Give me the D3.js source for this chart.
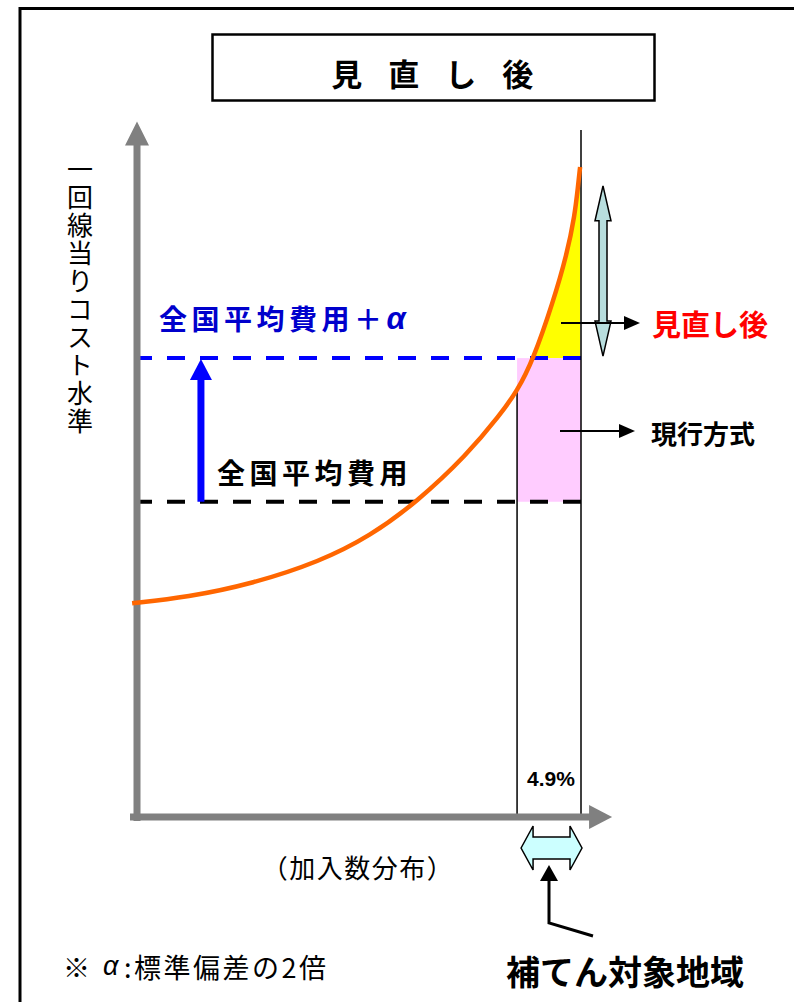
<!DOCTYPE html>
<html><head><meta charset="utf-8">
<script src="https://cdn.jsdelivr.net/npm/d3@7"></script>
<style>
html,body{margin:0;padding:0;background:#fff;}
svg{display:block;}
</style></head>
<body>
<svg id="chart" width="794" height="1002" font-family="'Noto Sans CJK JP','Noto Sans',sans-serif"></svg>
<script>
// ---- data ----
const title = "見 直 し 後";
const yAxisLabel = "一回線当りコスト水準";
const xAxisLabel = "（加入数分布）";
const footnoteParts = ["※ ", "α", ":標準偏差の2倍"];
const targetLabel = "補てん対象地域";
// cost curve (x: cumulative distribution, y: cost level)
const curveX = [-1.1, 11.3, 26.1, 41.2, 52.5, 63.1, 74.3, 81.8, 85.6, 89.2, 93.7, 96.8, 98.6, 99.3, 99.8];
const curveY = [32.9, 33.8, 35.9, 39.3, 43.2, 48.5, 55.7, 61.9, 65.5, 70.3, 79.2, 86.5, 92.6, 96.9, 100];
const levelNames = ["全国平均費用", "全国平均費用＋"];
const alphaSymbol = "α";
const levelValues = [48.5, 70.6];
const subsidyRange = [85.6, 100];
const subsidyShare = "4.9%";
const methodNames = ["見直し後", "現行方式"];
const axisMax = 107;

// ---- scales ----
const svg = d3.select("#chart");
const x = d3.scaleLinear().domain([0, 100]).range([137, 581]);
const y = d3.scaleLinear().domain([0, 100]).range([817, 167]);
const curveData = curveX.map((v, i) => ({x: v, y: curveY[i]}));
const avg = levelValues[0], avgA = levelValues[1];
const latin = "'Liberation Sans',Arial,sans-serif";
const smooth = d3.curveBasis;

// frame
svg.append("rect").attr("x", 20).attr("y", 8.5).attr("width", 800).attr("height", 1010)
  .attr("fill", "none").attr("stroke", "#000").attr("stroke-width", 3);
// title box
svg.append("rect").attr("x", 212.5).attr("y", 34.5).attr("width", 442).attr("height", 66)
  .attr("fill", "#fff").attr("stroke", "#000").attr("stroke-width", 2.5);
svg.append("text").attr("x", 433 + 4).attr("y", 72).attr("text-anchor", "middle")
  .attr("dominant-baseline", "central").attr("font-size", 31).attr("font-weight", "bold")
  .attr("letter-spacing", 9.5).text(title);

// pink (current method) region
svg.append("rect").attr("x", x(subsidyRange[0])).attr("y", y(avgA))
  .attr("width", x(subsidyRange[1]) - x(subsidyRange[0])).attr("height", y(avg) - y(avgA))
  .attr("fill", "#ffccff");

// yellow (revised) region: below curve, above avg+alpha, left of right boundary
svg.append("clipPath").attr("id", "yclip").append("rect")
  .attr("x", x(0)).attr("y", 0).attr("width", x(subsidyRange[1]) - x(0)).attr("height", y(avgA));
const area = d3.area().curve(smooth)
  .x(d => x(d.x)).y0(y(avgA)).y1(d => y(d.y));
svg.append("path").datum(curveData).attr("d", area).attr("fill", "#ffff00")
  .attr("clip-path", "url(#yclip)");

// dashed level lines
svg.append("line").attr("x1", 134).attr("x2", x(100)).attr("y1", y(avg)).attr("y2", y(avg))
  .attr("stroke", "#000").attr("stroke-width", 4).attr("stroke-dasharray", "18,15");
svg.append("line").attr("x1", 134).attr("x2", x(100)).attr("y1", y(avgA)).attr("y2", y(avgA))
  .attr("stroke", "#0000ff").attr("stroke-width", 4).attr("stroke-dasharray", "18,15");

// subsidy boundary lines
const leftTop = curveY[curveX.indexOf(subsidyRange[0])];
svg.append("line").attr("x1", x(subsidyRange[0])).attr("x2", x(subsidyRange[0]))
  .attr("y1", y(leftTop)).attr("y2", y(0)).attr("stroke", "#000").attr("stroke-width", 1.5);
svg.append("line").attr("x1", x(subsidyRange[1])).attr("x2", x(subsidyRange[1]))
  .attr("y1", y(105.7)).attr("y2", y(0)).attr("stroke", "#000").attr("stroke-width", 1.5);

// axes (gray arrows)
const gray = "#808080";
svg.append("line").attr("x1", x(0)).attr("x2", x(0)).attr("y1", y(0) + 4).attr("y2", y(axisMax) + 22)
  .attr("stroke", gray).attr("stroke-width", 7);
svg.append("path").attr("fill", gray)
  .attr("d", `M${x(0)},${y(axisMax)} L${x(0) + 12},${y(axisMax) + 24} L${x(0) - 12},${y(axisMax) + 24} Z`);
svg.append("line").attr("x1", 130).attr("x2", x(axisMax) - 22).attr("y1", y(0)).attr("y2", y(0))
  .attr("stroke", gray).attr("stroke-width", 7);
svg.append("path").attr("fill", gray)
  .attr("d", `M${x(axisMax)},${y(0)} L${x(axisMax) - 23},${y(0) - 12} L${x(axisMax) - 23},${y(0) + 12} Z`);

// cost curve
svg.append("path").datum(curveData)
  .attr("d", d3.line().curve(smooth).x(d => x(d.x)).y(d => y(d.y)))
  .attr("fill", "none").attr("stroke", "#ff6600").attr("stroke-width", 4.5);

// blue up arrow (avg -> avg+alpha)
const bx = x(14.4);
svg.append("line").attr("x1", bx).attr("x2", bx).attr("y1", y(avg)).attr("y2", y(avgA) + 20)
  .attr("stroke", "#0000ff").attr("stroke-width", 7);
svg.append("path").attr("fill", "#0000ff")
  .attr("d", `M${bx},${y(avgA) + 1} L${bx + 11},${y(avgA) + 22} L${bx - 11},${y(avgA) + 22} Z`);

// level labels
const tA = svg.append("text").attr("x", 159).attr("y", 318).attr("dominant-baseline", "central")
  .attr("font-size", 28).attr("font-weight", "bold").attr("fill", "#0000cc");
tA.append("tspan").attr("letter-spacing", 4.5).text(levelNames[1]);
tA.append("tspan").attr("font-family", latin).attr("font-style", "italic")
  .attr("font-size", 31).text(alphaSymbol);
svg.append("text").attr("x", 217).attr("y", 472).attr("dominant-baseline", "central")
  .attr("font-size", 28).attr("font-weight", "bold").attr("fill", "#000")
  .attr("letter-spacing", 4.5).text(levelNames[0]);

// double arrows
function vDouble(cx, ty, by, hl, hh, sh) {
  return `M${cx},${ty} L${cx + hh},${ty + hl} L${cx + sh},${ty + hl} L${cx + sh},${by - hl} L${cx + hh},${by - hl} ` +
         `L${cx},${by} L${cx - hh},${by - hl} L${cx - sh},${by - hl} L${cx - sh},${ty + hl} L${cx - hh},${ty + hl} Z`;
}
function hDouble(lx, rx, cy, hl, hh, sh) {
  return `M${lx},${cy} L${lx + hl},${cy - hh} L${lx + hl},${cy - sh} L${rx - hl},${cy - sh} L${rx - hl},${cy - hh} ` +
         `L${rx},${cy} L${rx - hl},${cy + hh} L${rx - hl},${cy + sh} L${lx + hl},${cy + sh} L${lx + hl},${cy + hh} Z`;
}
svg.append("path").attr("d", vDouble(x(100) + 22, y(97.1), y(avgA) - 2, 35, 8, 4))
  .attr("fill", "#b8dede").attr("stroke", "#000").attr("stroke-width", 1.5);

// pointer arrows to method labels
function pointer(x1, x2, yy) {
  svg.append("line").attr("x1", x1).attr("x2", x2 - 14).attr("y1", yy).attr("y2", yy)
    .attr("stroke", "#000").attr("stroke-width", 2);
  svg.append("path").attr("fill", "#000")
    .attr("d", `M${x2},${yy} L${x2 - 16},${yy - 7} L${x2 - 16},${yy + 7} Z`);
}
pointer(561, 640, 323);
pointer(560, 635, 431);
svg.append("text").attr("x", 652).attr("y", 323).attr("dominant-baseline", "central")
  .attr("font-size", 29).attr("font-weight", "bold").attr("fill", "#ff0000").text(methodNames[0]);
svg.append("text").attr("x", 651).attr("y", 432).attr("dominant-baseline", "central")
  .attr("font-size", 26).attr("font-weight", "bold").attr("fill", "#000").text(methodNames[1]);

// share label
svg.append("text").attr("x", (x(subsidyRange[0]) + x(subsidyRange[1])) / 2 + 2).attr("y", 778)
  .attr("text-anchor", "middle").attr("dominant-baseline", "central")
  .attr("font-family", latin).attr("font-size", 21)
  .attr("font-weight", "bold").text(subsidyShare);

// horizontal double arrow (subsidy area)
svg.append("path").attr("d", hDouble(x(subsidyRange[0]) + 4, x(subsidyRange[1]) + 1, 848, 12, 22, 11))
  .attr("fill", "#ccffff").attr("stroke", "#000").attr("stroke-width", 1.5);

// pointer from target label
svg.append("polyline").attr("points", `593,936 549,923 549,878`)
  .attr("fill", "none").attr("stroke", "#000").attr("stroke-width", 3);
svg.append("path").attr("fill", "#000").attr("d", "M549,865 L558,881 L540,881 Z");

// axis labels
svg.append("text").attr("x", 80).attr("y", 156)
  .attr("style", "writing-mode: vertical-rl; text-orientation: upright;")
  .attr("font-size", 26).attr("letter-spacing", 2).text(yAxisLabel);
svg.append("text").attr("x", 358).attr("y", 866).attr("text-anchor", "middle")
  .attr("dominant-baseline", "central").attr("font-size", 26).attr("letter-spacing", 1.5).text(xAxisLabel);

// footnote
const fn = svg.append("text").attr("y", 966).attr("dominant-baseline", "central").attr("font-size", 27);
fn.append("tspan").attr("x", 63).text(footnoteParts[0]);
fn.append("tspan").attr("x", 103).attr("font-family", latin).attr("font-style", "italic").text(footnoteParts[1]);
fn.append("tspan").attr("x", 124).attr("letter-spacing", 2.5).text(footnoteParts[2]);

// target label
svg.append("text").attr("x", 506).attr("y", 970).attr("dominant-baseline", "central")
  .attr("font-size", 34).attr("font-weight", "bold").text(targetLabel);
</script>
</body></html>
